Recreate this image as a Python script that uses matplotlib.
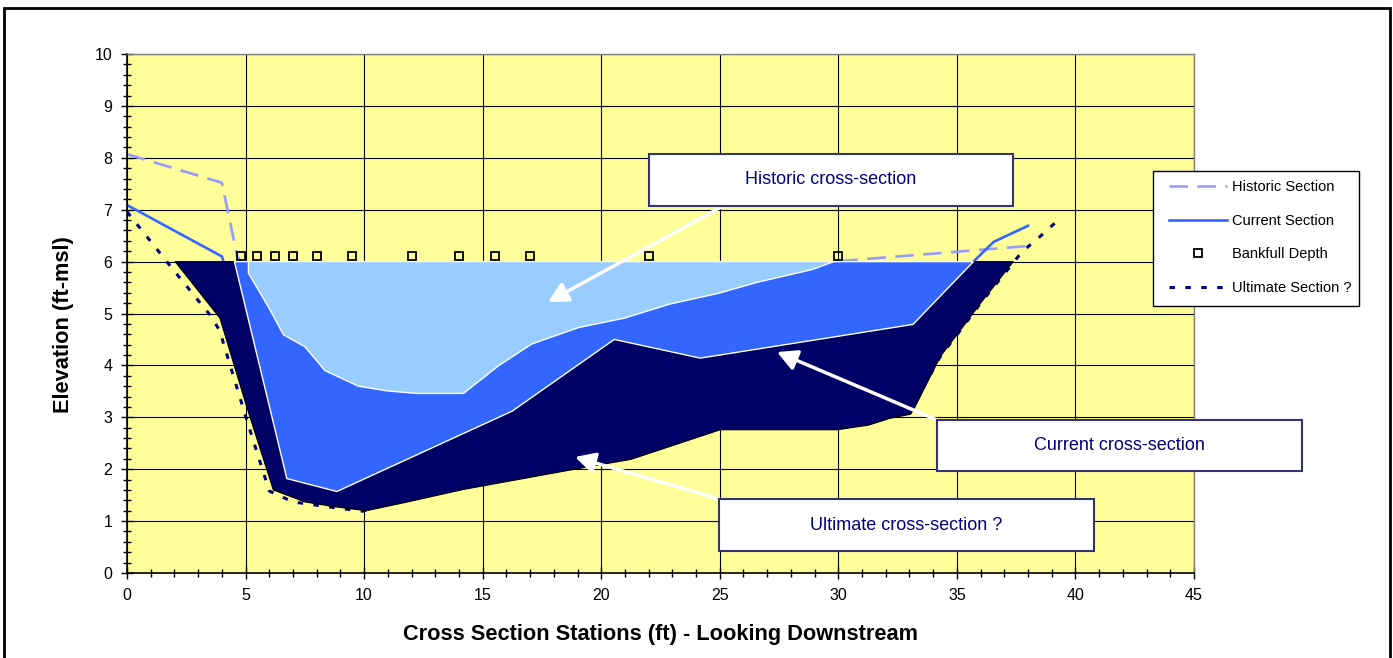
import matplotlib
matplotlib.use("Agg")
import matplotlib.pyplot as plt
from matplotlib.patches import Rectangle, Polygon
from matplotlib.ticker import MultipleLocator

plt.rcParams['font.family'] = ['Liberation Sans', 'DejaVu Sans']

# ---------------- data ----------------
hist_x = [0.0, 4.0, 4.65, 5.12, 5.96, 6.6, 7.5, 8.35, 9.76, 10.96, 12.2, 14.19, 15.66,
          17.06, 19.05, 20.97, 22.88, 24.95, 26.57, 28.92, 29.8, 38.0]
hist_y = [8.07, 7.52, 6.1, 5.78, 5.13, 4.59, 4.36, 3.9, 3.6, 3.51, 3.46, 3.46, 3.99,
          4.41, 4.73, 4.91, 5.18, 5.39, 5.6, 5.85, 6.0, 6.3]

hist_fill_x = [5.12, 5.12, 5.96, 6.6, 7.5, 8.35, 9.76, 10.96, 12.2, 14.19, 15.66,
               17.06, 19.05, 20.97, 22.88, 24.95, 26.57, 28.92, 29.8]
hist_fill_y = [6.0, 5.78, 5.13, 4.59, 4.36, 3.9, 3.6, 3.51, 3.46, 3.46, 3.99,
               4.41, 4.73, 4.91, 5.18, 5.39, 5.6, 5.85, 6.0]

cur_x = [0.0, 4.0, 4.1, 6.74, 8.85, 16.25, 20.55, 24.18, 33.15, 35.7, 36.55, 38.0]
cur_y = [7.09, 6.1, 5.95, 1.82, 1.57, 3.12, 4.5, 4.14, 4.79, 6.0, 6.38, 6.69]

cur_fill_x = [4.53, 6.74, 8.85, 16.25, 20.55, 24.18, 33.15, 35.7]
cur_fill_y = [6.0, 1.82, 1.57, 3.12, 4.5, 4.14, 4.79, 6.0]

ult_x = [0.0, 1.8, 3.5, 3.9, 5.05, 6.0, 7.0, 8.4, 9.96, 11.54, 14.19, 19.49, 21.26,
         25.02, 29.96, 31.28, 32.17, 33.05, 33.2, 34.3, 35.15, 36.0, 37.75, 38.6, 39.2]
ult_y = [6.96, 5.93, 4.97, 4.68, 2.95, 1.58, 1.37, 1.28, 1.19, 1.42, 1.69, 2.13, 2.27,
         2.84, 2.84, 2.93, 3.06, 3.14, 3.25, 4.17, 4.68, 5.2, 6.19, 6.52, 6.77]

ult_fill_x = [2.03, 3.92, 5.05, 5.4, 6.17, 7.5, 8.7, 10.1, 11.54, 14.19, 19.49, 21.26,
              25.02, 29.96, 31.28, 32.17, 33.05, 33.2, 34.3, 35.15, 36.0, 37.38]
ult_fill_y = [6.0, 4.91, 3.2, 2.7, 1.6, 1.37, 1.28, 1.2, 1.34, 1.61, 2.05, 2.19,
              2.76, 2.76, 2.85, 2.98, 3.06, 3.17, 4.17, 4.68, 5.2, 6.0]

bf_x = [4.8, 5.5, 6.25, 7.0, 8.0, 9.5, 12.0, 14.0, 15.5, 17.0, 22.0, 30.0]
bf_y = [6.1, 6.1, 6.1, 6.1, 6.1, 6.1, 6.1, 6.1, 6.1, 6.1, 6.1, 6.1]

x_ticks = [0, 5, 10, 15, 20, 25, 30, 35, 40, 45]
y_ticks = [0, 1, 2, 3, 4, 5, 6, 7, 8, 9, 10]

labels = ["Historic Section", "Current Section", "Bankfull Depth", "Ultimate Section ?"]
callouts = ["Historic cross-section", "Current cross-section", "Ultimate cross-section ?"]

# ---------------- figure ----------------
W, H = 1393, 658
fig = plt.figure(figsize=(W / 100, H / 100), dpi=100)
fig.patch.set_facecolor('white')
ax = fig.add_axes([127 / W, (H - 573) / H, (1194 - 127) / W, (573 - 54) / H])
ax.set_facecolor('#FFFF99')

# outer border
fig.patches.append(Rectangle((4 / W, -0.02), (1390 - 4) / W, 1 - 8 / H + 0.02,
                             transform=fig.transFigure, fill=False,
                             edgecolor='black', lw=2, zorder=0))

ax.set_xlim(0, 45)
ax.set_ylim(0, 10)
ax.set_xticks(x_ticks)
ax.set_yticks(y_ticks)
ax.xaxis.set_minor_locator(MultipleLocator(1))
ax.yaxis.set_minor_locator(MultipleLocator(0.2))
ax.tick_params(which='major', direction='inout', length=8, width=1, labelsize=11.5,
               color='black')
ax.tick_params(which='minor', direction='inout', length=5.5, width=1, color='black')
ax.tick_params(axis='x', which='major', pad=7.0)
ax.tick_params(axis='y', which='major', pad=6.5)
ax.set_axisbelow(True)
ax.grid(True, which='major', color='black', lw=0.8)
for s in ['left', 'bottom']:
    ax.spines[s].set_color('black')
    ax.spines[s].set_linewidth(1.2)
for s in ['top', 'right']:
    ax.spines[s].set_color('#808080')
    ax.spines[s].set_linewidth(1.0)

# lines (beneath the filled sections)
l_hist, = ax.plot(hist_x, hist_y, color='#9999FF', lw=1.9, dashes=(7, 3.6),
                  zorder=2, label=labels[0])
l_cur, = ax.plot(cur_x, cur_y, color='#3366FF', lw=1.9, zorder=2, label=labels[1])
l_ult, = ax.plot(ult_x, ult_y, color='#000080', lw=2.2, dashes=(1.8, 3.4),
                 zorder=2, label=labels[3])

# filled sections
ax.add_patch(Polygon(list(zip(ult_fill_x, ult_fill_y)), closed=True,
                     facecolor='#000066', edgecolor='black', lw=0.8, zorder=3))
ax.add_patch(Polygon(list(zip(cur_fill_x, cur_fill_y)), closed=True,
                     facecolor='#3366FF', edgecolor='white', lw=1.0, zorder=4))
ax.add_patch(Polygon(list(zip(hist_fill_x, hist_fill_y)), closed=True,
                     facecolor='#99CCFF', edgecolor='white', lw=1.0, zorder=5))

l_bf, = ax.plot(bf_x, bf_y, linestyle='none', marker='s', markersize=5.5,
                markerfacecolor='none', markeredgecolor='black', markeredgewidth=1.3,
                zorder=6, label=labels[2])

# axis labels
ax.set_xlabel("Cross Section Stations (ft) - Looking Downstream", fontsize=15.7,
              fontweight='bold')
ax.set_ylabel("Elevation (ft-msl)", fontsize=15.7, fontweight='bold')
ax.xaxis.set_label_coords(0.5, -(624 - 573) / 519, transform=ax.transAxes)
ax.yaxis.set_label_coords(-(127 - 74) / 1067, (573 - 325) / 519, transform=ax.transAxes)

# legend (frame drawn separately to match the box exactly)
ax.add_patch(Rectangle((1153 / W, 1 - 306 / H), (1359 - 1153) / W, (306 - 171) / H,
                       transform=fig.transFigure, facecolor='white',
                       edgecolor='black', lw=1.0, zorder=9, clip_on=False))
leg = ax.legend(handles=[l_hist, l_cur, l_bf, l_ult], loc='upper left',
                bbox_to_anchor=(1169 / W, 1 - 180 / H), bbox_transform=fig.transFigure,
                fontsize=10.5, frameon=False, borderaxespad=0, borderpad=0,
                handlelength=4.0, handletextpad=0.3, labelspacing=1.35)
leg.set_zorder(10)


# callout boxes (pixel -> data helpers)
def px2x(px):
    return (px - 127) / (1067 / 45)


def px2y(py):
    return (573 - py) / (519 / 10)


boxes = [(649, 154, 1013, 206), (937, 420, 1302, 471), (719, 499, 1094, 551)]
arrows = [((723, 206), (548, 302)), ((937, 420), (777, 352)), ((719, 499), (575, 457))]

for (x0, y0, x1, y1), txt, ((sx, sy), (tx, ty)) in zip(boxes, callouts, arrows):
    ax.annotate('', xy=(px2x(tx), px2y(ty)), xytext=(px2x(sx), px2y(sy)),
                arrowprops=dict(arrowstyle='-|>,head_length=0.8,head_width=0.42',
                                color='white', lw=2.5, shrinkA=0, shrinkB=0,
                                mutation_scale=15),
                zorder=7, annotation_clip=False)
    ax.add_patch(Rectangle((px2x(x0), px2y(y1)), px2x(x1) - px2x(x0), px2y(y0) - px2y(y1),
                           facecolor='white', edgecolor='#333377', lw=1.5,
                           zorder=8, clip_on=False))
    ax.text((px2x(x0) + px2x(x1)) / 2, (px2y(y0) + px2y(y1)) / 2, txt,
            ha='center', va='center', fontsize=13, color='#000080', zorder=9,
            clip_on=False)

fig.savefig('out.png', dpi=100, facecolor='white')
